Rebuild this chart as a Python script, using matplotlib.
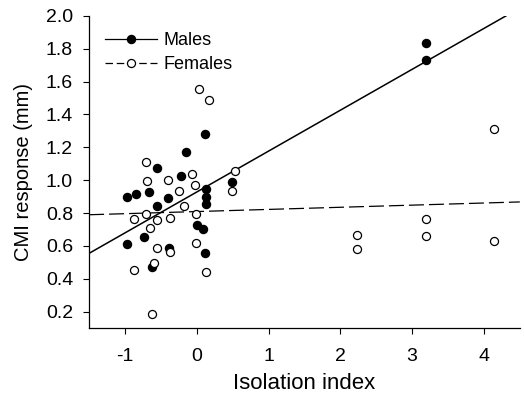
import numpy as np
import matplotlib.pyplot as plt

plt.rcParams['font.family'] = ['Liberation Sans', 'DejaVu Sans']

# Males (filled)
male_x = [-0.97, -0.85, -0.66, -0.56, -0.55, -0.40, -0.22, -0.15, 0.11, 0.135,
          0.135, 0.135, 0.0, 0.09, 0.11, 0.49, -0.97, -0.73, -0.38, -0.62,
          3.19, 3.19]
male_y = [0.90, 0.915, 0.925, 1.075, 0.843, 0.892, 1.026, 1.17, 1.28, 0.945,
          0.90, 0.854, 0.73, 0.70, 0.555, 0.99, 0.61, 0.657, 0.59, 0.47,
          1.837, 1.73]

# Females (open)
female_x = [0.03, 0.17, -0.71, -0.70, -0.40, -0.07, -0.25, -0.02, 0.53, 0.49,
            -0.18, -0.87, -0.71, -0.56, -0.37, -0.65, -0.01, -0.01, -0.56, -0.37,
            -0.59, -0.87, 0.125, -0.62, 2.23, 2.23, 3.19, 3.19, 4.14, 4.14]
female_y = [1.557, 1.488, 1.11, 0.996, 1.002, 1.04, 0.935, 0.97, 1.057, 0.935,
            0.843, 0.764, 0.795, 0.756, 0.77, 0.71, 0.795, 0.618, 0.59, 0.56,
            0.496, 0.455, 0.44, 0.183, 0.669, 0.58, 0.762, 0.66, 1.31, 0.632]

# regression lines (slope, intercept)
male_fit = [0.249, 0.928]
female_fit = [0.013, 0.809]

x_ticks = [-1, 0, 1, 2, 3, 4]
y_ticks = [0.2, 0.4, 0.6, 0.8, 1.0, 1.2, 1.4, 1.6, 1.8, 2.0]

fig = plt.figure(figsize=(5.24, 3.99), dpi=100)
ax = fig.add_axes([0.170, 0.178, 0.822, 0.782])

xs = np.array([-1.5, 4.5])
ax.plot(xs, male_fit[0] * xs + male_fit[1], color='black', lw=1.1, zorder=2)
ax.plot(xs, female_fit[0] * xs + female_fit[1], color='black', lw=0.9,
        dashes=(12, 4), zorder=2)

ax.plot(male_x, male_y, 'o', color='black', ms=5.8, zorder=3)
ax.plot(female_x, female_y, 'o', mfc='white', mec='black', mew=0.9, ms=5.8, zorder=3)

# legend handles
h1, = ax.plot([], [], '-o', color='black', lw=0.9, ms=5.8, label='Males')
h2, = ax.plot([], [], 'o', mfc='white', mec='black', mew=0.9, ms=5.8,
              color='black', ls=(0, (6, 3)), lw=0.9, label='Females')
ax.legend(handles=[h1, h2], loc='upper left', frameon=False, fontsize=13,
          handlelength=2.9, handletextpad=0.33, borderaxespad=0, borderpad=0,
          labelspacing=0.38, bbox_to_anchor=(0.037, 0.948))

ax.set_xlim(-1.5, 4.5)
ax.set_ylim(0.1, 2.0)
ax.set_xticks(x_ticks)
ax.set_xticklabels([str(t) for t in x_ticks])
ax.set_yticks(y_ticks)
ax.set_yticklabels([f'{t:.1f}' for t in y_ticks])
ax.tick_params(labelsize=14, length=4.5, width=0.8, direction='out')
ax.tick_params(axis='x', pad=10)
ax.tick_params(axis='y', pad=7)

for s in ['top', 'right']:
    ax.spines[s].set_visible(False)
for s in ['left', 'bottom']:
    ax.spines[s].set_linewidth(0.9)

ax.set_xlabel('Isolation index', fontsize=16, labelpad=6)
ax.set_ylabel('CMI response (mm)', fontsize=14.5, labelpad=9)

fig.savefig('out.png', dpi=100)
